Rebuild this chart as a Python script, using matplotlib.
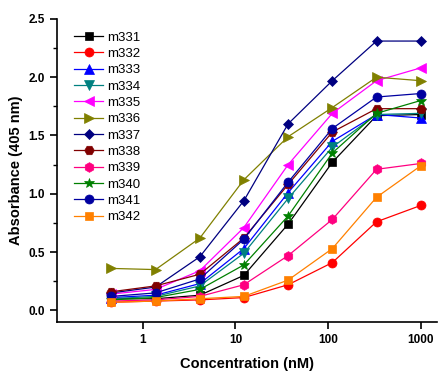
import matplotlib
matplotlib.use("Agg")
import matplotlib.pyplot as plt
from matplotlib.ticker import FixedLocator, FixedFormatter, MultipleLocator, NullLocator

plt.rcParams['font.family'] = ['Liberation Sans', 'DejaVu Sans']

conc = [0.457, 1.37, 4.12, 12.3, 37.0, 111, 333, 1000]

m331 = [0.10, 0.10, 0.13, 0.30, 0.74, 1.27, 1.67, 1.68]
m332 = [0.07, 0.08, 0.09, 0.11, 0.22, 0.41, 0.76, 0.90]
m333 = [0.11, 0.13, 0.23, 0.53, 1.01, 1.45, 1.68, 1.65]
m334 = [0.10, 0.12, 0.21, 0.49, 0.96, 1.40, 1.68, 1.69]
m335 = [0.14, 0.18, 0.34, 0.71, 1.25, 1.69, 1.97, 2.08]
m336 = [0.36, 0.35, 0.62, 1.12, 1.49, 1.74, 2.00, 1.97]
m337 = [0.15, 0.20, 0.46, 0.94, 1.60, 1.97, 2.31, 2.31]
m338 = [0.16, 0.21, 0.31, 0.62, 1.08, 1.53, 1.73, 1.73]
m339 = [0.08, 0.09, 0.12, 0.22, 0.47, 0.78, 1.21, 1.26]
m340 = [0.09, 0.11, 0.18, 0.39, 0.81, 1.35, 1.69, 1.80]
m341 = [0.12, 0.15, 0.27, 0.61, 1.10, 1.56, 1.83, 1.86]
m342 = [0.07, 0.08, 0.10, 0.12, 0.26, 0.53, 0.97, 1.24]

names = ['m331', 'm332', 'm333', 'm334', 'm335', 'm336',
         'm337', 'm338', 'm339', 'm340', 'm341', 'm342']
series = [m331, m332, m333, m334, m335, m336, m337, m338, m339, m340, m341, m342]
colors = ['#000000', '#ff0000', '#0000ff', '#008080', '#ff00ff', '#808000',
          '#000080', '#800000', '#ff0080', '#008000', '#0000a0', '#ff8000']
markers = ['s', 'o', '^', 'v', '<', '>', 'D', 'H', 'h', '*', 'o', 's']
msizes = [6, 6.5, 6.5, 6.5, 6.5, 6.5, 5.5, 7, 7, 7.5, 6.5, 6]

fig = plt.figure(figsize=(4.48, 3.78), dpi=100)
ax = fig.add_axes([0.127, 0.148, 0.848, 0.802])

for vals, name, c, m, ms in zip(series, names, colors, markers, msizes):
    ax.plot(conc, vals, color=c, marker=m, markersize=ms, linewidth=0.9,
            markeredgewidth=0.5, markeredgecolor=c, label=name)

ax.set_xscale('log')
ax.set_xlim(0.118, 1490)
ax.set_ylim(-0.1, 2.5)

ax.xaxis.set_major_locator(FixedLocator([1, 10, 100, 1000]))
ax.xaxis.set_major_formatter(FixedFormatter(['1', '10', '100', '1000']))
ax.xaxis.set_minor_locator(NullLocator())
ax.yaxis.set_major_locator(MultipleLocator(0.5))
ax.yaxis.set_minor_locator(MultipleLocator(0.25))
ax.yaxis.set_major_formatter(matplotlib.ticker.FormatStrFormatter('%.1f'))

ax.spines['top'].set_visible(False)
ax.spines['right'].set_visible(False)
ax.spines['left'].set_linewidth(1.2)
ax.spines['bottom'].set_linewidth(1.2)
ax.tick_params(which='major', direction='out', length=5, width=1.2, labelsize=8.5)
ax.tick_params(which='minor', direction='out', length=3, width=1.0)
for lbl in ax.get_xticklabels() + ax.get_yticklabels():
    lbl.set_fontweight('bold')

ax.set_xlabel('Concentration (nM)', fontsize=10.5, fontweight='bold', labelpad=8)
ax.set_ylabel('Absorbance (405 nm)', fontsize=10.5, fontweight='bold', labelpad=4)

ax.legend(loc='upper left', bbox_to_anchor=(0.025, 0.985), frameon=False, fontsize=9.5,
          handlelength=2.2, handletextpad=0.3, labelspacing=0.31, borderaxespad=0.2)

fig.savefig('out.png', dpi=100)
